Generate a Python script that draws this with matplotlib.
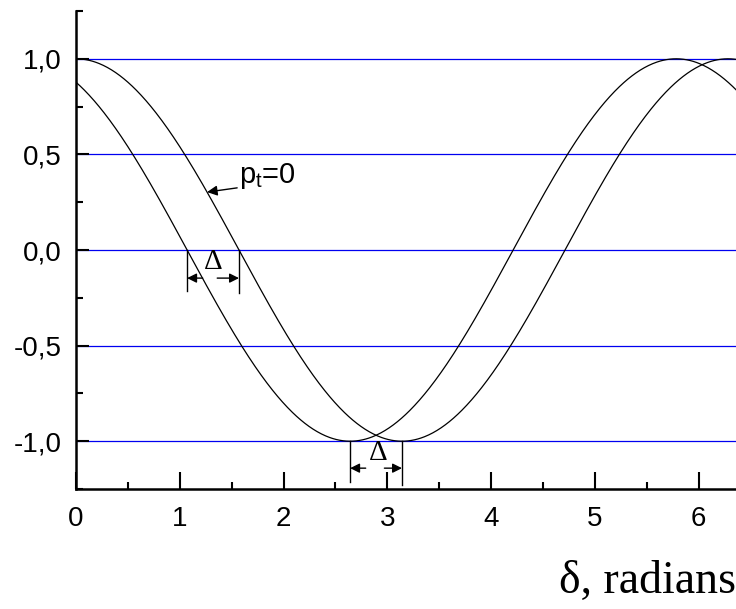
import numpy as np
import matplotlib.pyplot as plt
from matplotlib.ticker import MultipleLocator, FuncFormatter

# phase shift between the two curves (radians)
shift = 0.5
x_max = 6.36
grid_levels = [1.0, 0.5, 0.0, -0.5, -1.0]
x_ticks = [0, 1, 2, 3, 4, 5, 6]
y_ticks = [-1.0, -0.5, 0.0, 0.5, 1.0]

delta = np.linspace(0, x_max, 800)
curve_ref = np.cos(delta)            # p_t = 0
curve_shift = np.cos(delta + shift)  # shifted by delta

plt.rcParams['font.family'] = ['Liberation Sans', 'DejaVu Sans']
plt.rcParams['mathtext.fontset'] = 'custom'
plt.rcParams['mathtext.rm'] = 'Liberation Sans'
plt.rcParams['mathtext.it'] = 'Liberation Sans'

fig = plt.figure(figsize=(7.36, 6.09), dpi=100)
ax = fig.add_axes([76 / 736, 120 / 609, 1 - 76 / 736, 478 / 609])

# horizontal blue reference lines
for lev in grid_levels:
    ax.axhline(lev, color='#0000f0', lw=0.9, zorder=1)

ax.plot(delta, curve_ref, color='k', lw=0.9, zorder=2)
ax.plot(delta, curve_shift, color='k', lw=0.9, zorder=2)

ax.set_xlim(0, x_max)
ax.set_ylim(-1.25, 1.25)

for side in ['top', 'right']:
    ax.spines[side].set_visible(False)
for side in ['left', 'bottom']:
    ax.spines[side].set_linewidth(1.8)

ax.set_xticks(x_ticks)
ax.set_yticks(y_ticks)
ax.xaxis.set_minor_locator(MultipleLocator(0.5))
ax.yaxis.set_minor_locator(MultipleLocator(0.25))
ax.yaxis.set_major_formatter(FuncFormatter(lambda v, p: ('%.1f' % v).replace('.', ',')))
ax.tick_params(which='major', direction='in', length=9, width=1.5, labelsize=20)
ax.tick_params(which='minor', direction='in', length=5, width=1.5)
ax.tick_params(axis='x', which='major', length=12, pad=12)
ax.tick_params(axis='y', which='major', pad=10)

# label with arrow pointing at the unshifted curve
x_arrow = 1.263
ax.annotate('', xy=(x_arrow, np.cos(x_arrow)), xytext=(1.553, 0.325),
            arrowprops=dict(arrowstyle='-|>', color='k', lw=1.0,
                            mutation_scale=15, shrinkA=0, shrinkB=0))
ax.text(1.575, 0.35, 'p$_\\mathregular{t}$=0', fontsize=21, ha='left', va='baseline')

# delta markers at the zero crossing and at the minimum
zero_left = np.pi / 2 - shift
zero_right = np.pi / 2
min_left = np.pi - shift
min_right = np.pi

ax.plot([zero_left, zero_left], [0, -0.215], color='k', lw=1.0)
ax.plot([zero_right, zero_right], [0, -0.225], color='k', lw=1.0)
ax.annotate('', xy=(zero_left, -0.147), xytext=(zero_left + 0.15, -0.147),
            arrowprops=dict(arrowstyle='-|>', color='k', lw=1.0,
                            mutation_scale=14, shrinkA=0, shrinkB=0))
ax.annotate('', xy=(zero_right, -0.147), xytext=(zero_right - 0.21, -0.147),
            arrowprops=dict(arrowstyle='-|>', color='k', lw=1.0,
                            mutation_scale=14, shrinkA=0, shrinkB=0))
ax.text(1.32, -0.063, '\u0394', fontsize=21, family='Liberation Serif',
        ha='center', va='center')

ax.plot([min_left, min_left], [-1.0, -1.215], color='k', lw=1.0)
ax.plot([min_right, min_right], [-1.0, -1.23], color='k', lw=1.0)
ax.annotate('', xy=(min_left, -1.141), xytext=(min_left + 0.15, -1.141),
            arrowprops=dict(arrowstyle='-|>', color='k', lw=1.0,
                            mutation_scale=14, shrinkA=0, shrinkB=0))
ax.annotate('', xy=(min_right, -1.141), xytext=(min_right - 0.17, -1.141),
            arrowprops=dict(arrowstyle='-|>', color='k', lw=1.0,
                            mutation_scale=14, shrinkA=0, shrinkB=0))
ax.text(2.91, -1.063, '\u0394', fontsize=21, family='Liberation Serif',
        ha='center', va='center')

fig.text(1.0, (609 - 593) / 609, '\u03b4, radians', fontsize=33,
         family='Liberation Serif', ha='right', va='baseline')

fig.savefig('out.png', dpi=100)
